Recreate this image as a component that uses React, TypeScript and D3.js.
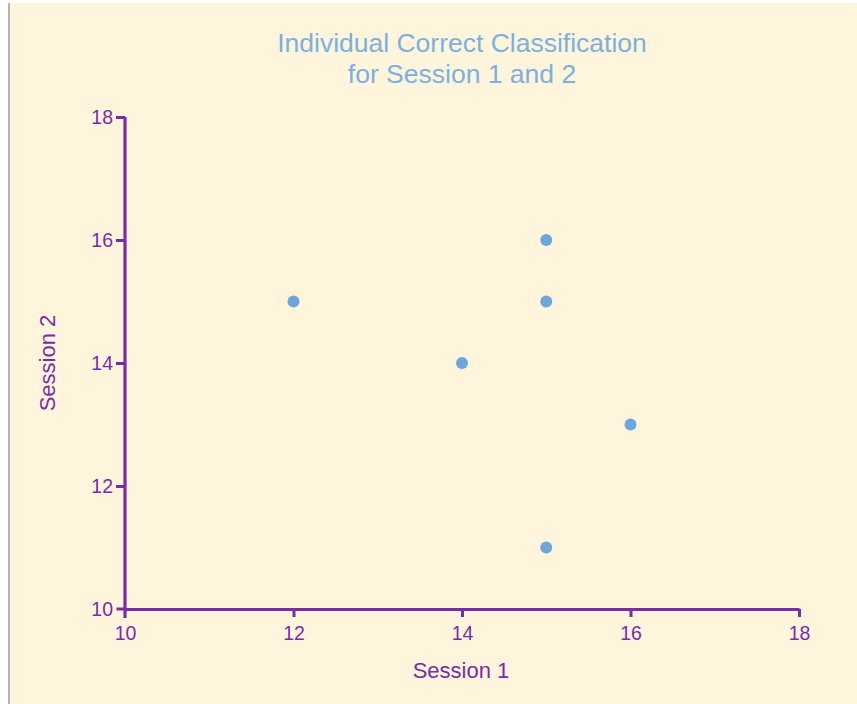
import React from "react";
import * as d3 from "d3";

const session1 = [12, 14, 15, 15, 15, 16];
const session2 = [15, 14, 16, 15, 11, 13];
const xTicks = [10, 12, 14, 16, 18];
const yTicks = [10, 12, 14, 16, 18];
const titleLines = ["Individual Correct Classification", "for Session 1 and 2"];

const App: React.FC = () => {
  const ref = React.useRef<SVGSVGElement>(null);

  React.useEffect(() => {
    const svg = d3.select(ref.current);
    svg.selectAll("*").remove();

    const purple = "#7a2ca8";
    const font = "Liberation Sans, Arial, sans-serif";

    svg.append("rect").attr("width", 857).attr("height", 704).attr("fill", "#ffffff");
    svg.append("rect").attr("x", 10).attr("y", 3).attr("width", 847).attr("height", 701).attr("fill", "#fef5dc");
    svg.append("rect").attr("x", 8).attr("y", 3).attr("width", 2).attr("height", 701).attr("fill", "#b8b4ac");

    const x = d3.scaleLinear().domain([10, 18]).range([125, 799]);
    const y = d3.scaleLinear().domain([10, 18]).range([609, 117]);

    // title
    svg
      .append("g")
      .selectAll("text")
      .data(titleLines)
      .join("text")
      .attr("x", 462)
      .attr("y", (_, i) => 52 + i * 31)
      .attr("text-anchor", "middle")
      .attr("font-family", font)
      .attr("font-size", 26.5)
      .attr("fill", "#7db0de")
      .text((d) => d);

    const xAxis = svg
      .append("g")
      .attr("transform", `translate(0,${y(10)})`)
      .call(d3.axisBottom(x).tickValues(xTicks).tickSize(8).tickSizeOuter(0).tickPadding(9));
    const yAxis = svg
      .append("g")
      .attr("transform", `translate(${x(10)},0)`)
      .call(d3.axisLeft(y).tickValues(yTicks).tickSize(9).tickSizeOuter(0).tickPadding(3));

    [xAxis, yAxis].forEach((g) => {
      g.select(".domain").attr("stroke", purple).attr("stroke-width", 3.2);
      g.selectAll(".tick line").attr("stroke", purple).attr("stroke-width", 3);
      g.selectAll(".tick text")
        .attr("fill", purple)
        .attr("font-family", font)
        .attr("font-size", 19.5);
    });
    // y axis extends below x axis slightly
    yAxis.select(".domain").attr("d", `M0,${y(18)}V${y(10) + 9}`);
    yAxis.selectAll(".tick").filter((d) => d === 10).select("line").remove();
    xAxis.selectAll(".tick").filter((d) => d === 10).select("line").attr("x2", -9).attr("y2", 0);

    svg
      .append("text")
      .attr("x", 461)
      .attr("y", 678)
      .attr("text-anchor", "middle")
      .attr("font-family", font)
      .attr("font-size", 22)
      .attr("fill", purple)
      .text("Session 1");

    svg
      .append("text")
      .attr("transform", `translate(55,${y(14)}) rotate(-90)`)
      .attr("text-anchor", "middle")
      .attr("font-family", font)
      .attr("font-size", 22)
      .attr("fill", purple)
      .text("Session 2");

    svg
      .append("g")
      .selectAll("circle")
      .data(session1.map((s, i) => [s, session2[i]]))
      .join("circle")
      .attr("cx", (d) => x(d[0]))
      .attr("cy", (d) => y(d[1]))
      .attr("r", 6)
      .attr("fill", "#6fa6da");
  }, []);

  return (
    <svg
      ref={ref}
      width={857}
      height={704}
      style={{ position: "absolute", left: 0, top: 0, display: "block" }}
    />
  );
};

export default App;
